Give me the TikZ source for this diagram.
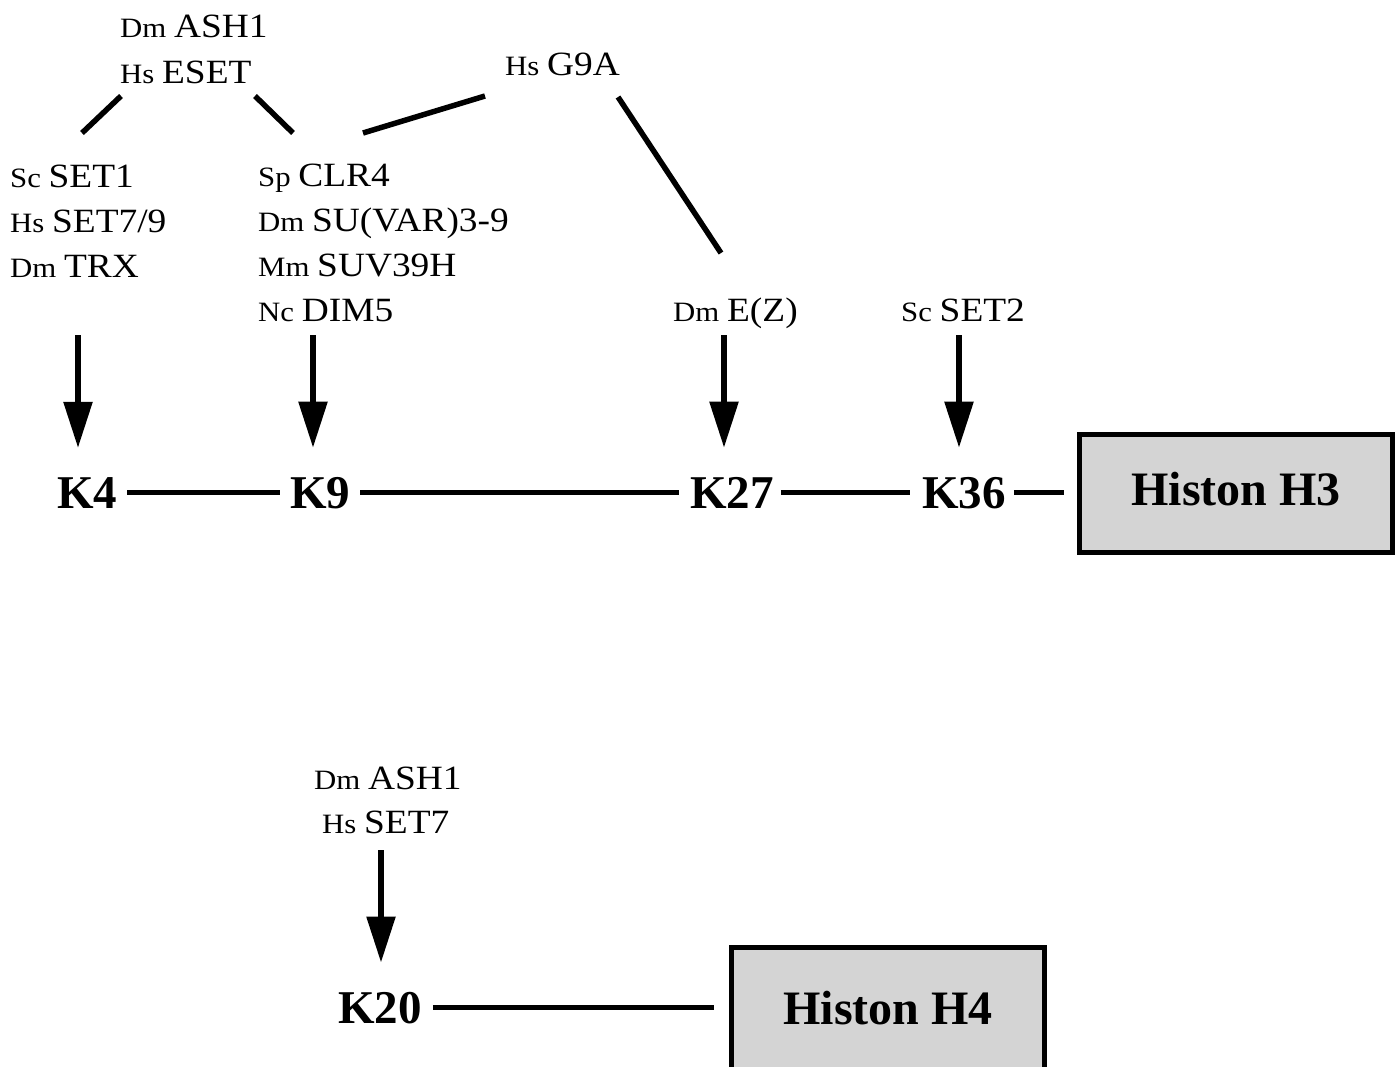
\documentclass[tikz,border=0pt]{standalone}
\usepackage{fontspec}
\setmainfont{Liberation Serif}
\newfontfamily\genefont[FakeStretch=1.1]{Liberation Serif}
\usetikzlibrary{arrows.meta}

% species prefix in small type, enzyme name in larger type
\newcommand{\gene}[2]{{\fontsize{28}{32}\selectfont #1\ }{\fontsize{34}{40}\selectfont #2}}

\begin{document}
\begin{tikzpicture}
[x=1pt,y=-1pt]
\tikzset{enzyme/.style = {anchor=base west,inner sep=0pt,font=\genefont}}
\tikzset{site/.style = {anchor=base west,inner sep=0pt,font=\fontsize{47}{56}\selectfont\bfseries}}
\tikzset{histone/.style = {draw,line width=5pt,fill=black!17,minimum width=313pt,minimum height=118pt,
  inner sep=0pt,text depth=10pt,font=\fontsize{48}{56}\selectfont\bfseries}}
\tikzset{link/.style = {line width=5.5pt}}
\tikzset{arrow/.style = {line width=5.5pt,-{Triangle[length=46pt,width=28pt]},shorten >=29pt}}
\useasboundingbox (0,0) rectangle (1399,1066);
  % enzymes for histone H3
  \node[enzyme] (ash1) at (120,37){\gene{Dm}{ASH1}};
  \node[enzyme] (eset) at (120,83){\gene{Hs}{ESET}};
  \node[enzyme] (g9a) at (505,75){\gene{Hs}{G9A}};
  \node[enzyme] (set1) at (10,187){\gene{Sc}{SET1}};
  \node[enzyme] (set79) at (10,232){\gene{Hs}{SET7/9}};
  \node[enzyme] (trx) at (10,277){\gene{Dm}{TRX}};
  \node[enzyme] (clr4) at (258,186){\gene{Sp}{CLR4}};
  \node[enzyme] (suvar) at (258,231){\gene{Dm}{SU(VAR)3-9}};
  \node[enzyme] (suv39h) at (258,276){\gene{Mm}{SUV39H}};
  \node[enzyme] (dim5) at (258,321){\gene{Nc}{DIM5}};
  \node[enzyme] (ez) at (673,321){\gene{Dm}{E(Z)}};
  \node[enzyme] (set2) at (901,321){\gene{Sc}{SET2}};
  % lysines of histone H3
  \node[site] (k4) at (57,508){K4};
  \node[site] (k9) at (290,508){K9};
  \node[site] (k27) at (690,508){K27};
  \node[site] (k36) at (922,508){K36};
  \node[histone] (h3) at (1236,493.5){Histon H3};
  % enzymes and lysine of histone H4
  \node[enzyme] (ash1b) at (314,789){\gene{Dm}{ASH1}};
  \node[enzyme] (set7) at (322,833){\gene{Hs}{SET7}};
  \node[site] (k20) at (338,1023){K20};
  \node[histone,minimum height=130pt] (h4) at (888,1012.5){Histon H4};
  % free ends of the short links and arrows
  \coordinate (esetL) at (121,96);
  \coordinate (set1T) at (82,133);
  \coordinate (esetR) at (255,96);
  \coordinate (clr4T) at (293,133);
  \coordinate (clr4R) at (363,133);
  \coordinate (g9aL) at (485,96);
  \coordinate (g9aR) at (618,97);
  \coordinate (ezT) at (721,253);
  \coordinate (a4) at (78,335);
  \coordinate (a9) at (313,335);
  \coordinate (a27) at (724,335);
  \coordinate (a36) at (959,335);
  \coordinate (a20) at (381,850);
\draw[link] (esetL) -- (set1T);
\draw[link] (esetR) -- (clr4T);
\draw[link] (clr4R) -- (g9aL);
\draw[link] (g9aR) -- (ezT);
\draw[arrow] (a4) -- (a4 |- k4.north);
\draw[arrow] (a9) -- (a9 |- k9.north);
\draw[arrow] (a27) -- (a27 |- k27.north);
\draw[arrow] (a36) -- (a36 |- k36.north);
\draw[arrow] (a20) -- (a20 |- k20.north);
\draw[link,shorten <=10pt,shorten >=10pt] (k4.east) -- (k4.east -| k9.west);
\draw[link,shorten <=10pt,shorten >=11pt] (k9.east) -- (k9.east -| k27.west);
\draw[link,shorten <=7pt,shorten >=12pt] (k27.east) -- (k27.east -| k36.west);
\draw[link,shorten <=8pt,shorten >=13pt] (k36.east) -- (k36.east -| h3.west);
\draw[link,shorten <=11pt,shorten >=15pt] (k20.east) -- (k20.east -| h4.west);
\end{tikzpicture}
\end{document}
